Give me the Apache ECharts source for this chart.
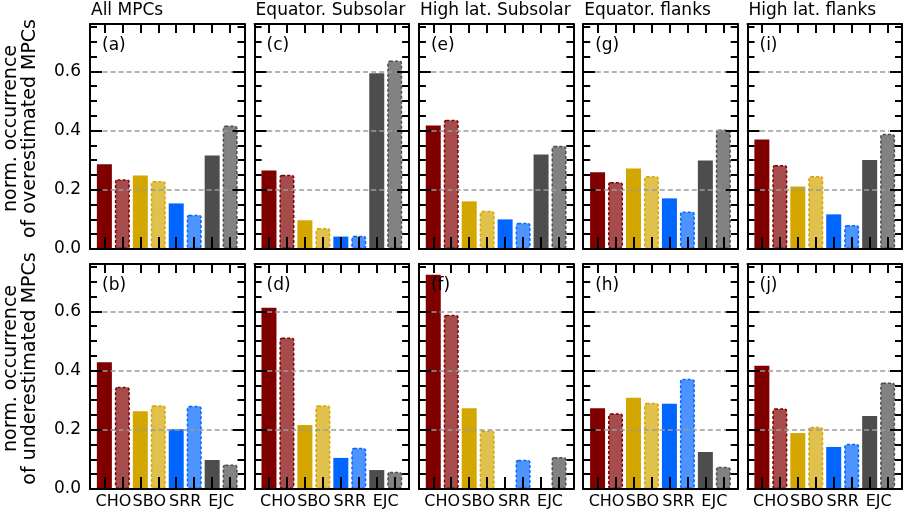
<!DOCTYPE html>
<html><head><meta charset="utf-8">
<script src="https://cdn.jsdelivr.net/npm/echarts@6/dist/echarts.min.js"></script>
<style>html,body{margin:0;padding:0;background:#fff}#c{width:904px;height:513px}</style>
</head><body><div id="c"></div>
<script>
const categories = ['CHO', 'SBO', 'SRR', 'EJC'];
const columnTitles = ['All MPCs', 'Equator. Subsolar', 'High lat. Subsolar', 'Equator. flanks', 'High lat. flanks'];
const topLetters = ['(a)', '(c)', '(e)', '(g)', '(i)'];
const bottomLetters = ['(b)', '(d)', '(f)', '(h)', '(j)'];
const yTickValues = [0.0, 0.2, 0.4, 0.6];
const rowTitles = ['norm. occurrence\nof overestimated MPCs', 'norm. occurrence\nof underestimated MPCs'];
// each array: [CHO, CHO (dashed), SBO, SBO (dashed), SRR, SRR (dashed), EJC, EJC (dashed)]
const overAll = [0.286, 0.236, 0.248, 0.230, 0.154, 0.116, 0.316, 0.417];
const overEquatorSubsolar = [0.265, 0.251, 0.097, 0.071, 0.042, 0.045, 0.594, 0.637];
const overHighLatSubsolar = [0.417, 0.437, 0.161, 0.129, 0.100, 0.089, 0.319, 0.349];
const overEquatorFlanks = [0.259, 0.226, 0.272, 0.247, 0.171, 0.127, 0.299, 0.404];
const overHighLatFlanks = [0.370, 0.284, 0.211, 0.247, 0.117, 0.081, 0.301, 0.389];
const underAll = [0.428, 0.345, 0.263, 0.283, 0.202, 0.281, 0.098, 0.083];
const underEquatorSubsolar = [0.612, 0.512, 0.216, 0.283, 0.105, 0.139, 0.064, 0.058];
const underHighLatSubsolar = [0.724, 0.589, 0.273, 0.198, 0.000, 0.099, 0.000, 0.108];
const underEquatorFlanks = [0.273, 0.256, 0.308, 0.291, 0.288, 0.372, 0.125, 0.075];
const underHighLatFlanks = [0.416, 0.273, 0.189, 0.210, 0.142, 0.153, 0.247, 0.360];

const rows = [
  [overAll, overEquatorSubsolar, overHighLatSubsolar, overEquatorFlanks, overHighLatFlanks],
  [underAll, underEquatorSubsolar, underHighLatSubsolar, underEquatorFlanks, underHighLatFlanks]
];

// styling
const solidColors = ['#800000', '#d4a600', '#0066ff', '#4d4d4d'];
const lightColors = ['#a64c4c', '#e1c14d', '#4d94ff', '#828282'];
const FONT = 'DejaVu Sans';
const colLeft = [90, 254.6, 418.9, 583.2, 747.5];
const rowTop = [24, 264];
const W = 154.5, H = 225;
const TOP_TICK = 9;
const XMIN = -0.8, XMAX = 7.8, YMAX = 0.76;
const barTickValues = [0, 1, 2, 3, 4, 5, 6, 7];
const topTickSpan = TOP_TICK / H * YMAX; // tick length in y units

const grids = [], xAxes = [], yAxes = [], series = [], titles = [];
const tickLine = { color: '#000', width: 2 };

function barStyle(i) {
  const k = Math.floor(i / 2);
  if (i % 2 === 0) return { color: solidColors[k] };
  return { color: lightColors[k], borderColor: solidColors[k], borderWidth: 1.5, borderType: [3, 2], borderRadius: 2 };
}

for (let r = 0; r < 2; r++) {
  for (let c = 0; c < 5; c++) {
    const g = r * 5 + c;
    grids.push({ left: colLeft[c], top: rowTop[r], width: W, height: H });

    // x axis 0: bottom (bars)
    xAxes.push({
      type: 'value', gridIndex: g, position: 'bottom', min: XMIN, max: XMAX, z: 20,
      axisLine: { show: true, onZero: false, lineStyle: tickLine },
      axisTick: { show: false },
      axisLabel: {
        show: r === 1, customValues: [0.5, 2.5, 4.5, 6.5], margin: 5,
        formatter: v => categories[Math.round((v - 0.5) / 2)] || '',
        fontFamily: FONT, fontSize: 16, color: '#000'
      },
      splitLine: { show: false }
    });
    // x axis 1: top frame
    xAxes.push({
      type: 'value', gridIndex: g, position: 'top', min: XMIN, max: XMAX, z: 20,
      axisLine: { show: true, onZero: false, lineStyle: tickLine },
      axisTick: { show: false }, axisLabel: { show: false }, splitLine: { show: false }
    });
    // x axis 2: bottom ticks at bar positions
    xAxes.push({
      type: 'value', gridIndex: g, position: 'bottom', min: XMIN, max: XMAX, z: 20,
      axisLine: { show: false, onZero: false },
      axisTick: { show: true, inside: true, length: 12, lineStyle: tickLine, customValues: barTickValues },
      axisLabel: { show: false, customValues: barTickValues }, splitLine: { show: false }
    });
    // y axis 0: left major
    const yl = {
      type: 'value', gridIndex: g, position: 'left', min: 0, max: YMAX, interval: 0.2, z: 20,
      axisLine: { show: true, onZero: false, lineStyle: tickLine },
      axisTick: { show: true, inside: true, length: 12, lineStyle: tickLine },
      axisLabel: {
        show: c === 0, margin: 9, fontFamily: FONT, fontSize: 17, color: '#000',
        formatter: v => (yTickValues.some(t => Math.abs(t - v) < 1e-6) ? v.toFixed(1) : '')
      },
      splitLine: { show: false }
    };
    if (c === 0) {
      yl.name = rowTitles[r];
      yl.nameLocation = 'middle';
      yl.nameRotate = 90;
      yl.nameGap = 50;
      yl.nameTextStyle = { fontFamily: FONT, fontSize: 19, lineHeight: 19, color: '#000', padding: [0, 0, 0, 16] };
    }
    yAxes.push(yl);
    // y axis 1: left minor
    yAxes.push({
      type: 'value', gridIndex: g, position: 'left', min: 0, max: YMAX, interval: 0.05, z: 20,
      axisLine: { show: false, onZero: false },
      axisTick: { show: true, inside: true, length: 7, lineStyle: tickLine },
      axisLabel: { show: false }, splitLine: { show: false }
    });
    // y axis 2: right major
    yAxes.push({
      type: 'value', gridIndex: g, position: 'right', min: 0, max: YMAX, interval: 0.2, z: 20,
      axisLine: { show: true, onZero: false, lineStyle: tickLine },
      axisTick: { show: true, inside: true, length: 12, lineStyle: tickLine },
      axisLabel: { show: false }, splitLine: { show: false }
    });
    // y axis 3: right minor
    yAxes.push({
      type: 'value', gridIndex: g, position: 'right', min: 0, max: YMAX, interval: 0.05, z: 20,
      axisLine: { show: false, onZero: false },
      axisTick: { show: true, inside: true, length: 7, lineStyle: tickLine },
      axisLabel: { show: false }, splitLine: { show: false }
    });

    const gridLines = yTickValues.filter(v => v > 0).map(v => [{ coord: [-0.1, v] }, { coord: [7.1, v] }]);
    // top-edge x ticks mirroring the bottom ticks, hung from the top frame
    const topTicks = barTickValues.map(v => [
      { coord: [v, YMAX], lineStyle: { type: 'solid', color: '#000', width: 2 } },
      { coord: [v, YMAX - topTickSpan] }
    ]);

    const vals = rows[r][c];
    series.push({
      type: 'bar', xAxisIndex: g * 3, yAxisIndex: g * 4, barWidth: 15,
      data: vals.map((v, i) => ({ value: [i, v], itemStyle: barStyle(i) })),
      markLine: {
        silent: true, symbol: 'none', z: 5, label: { show: false },
        lineStyle: { type: [5, 3], color: '#9a9a9a', width: 1.6 },
        data: gridLines.concat(topTicks)
      }
    });

    titles.push({
      text: (r === 0 ? topLetters : bottomLetters)[c], left: colLeft[c] + 12, top: rowTop[r] + 13, padding: 0,
      textStyle: { fontFamily: FONT, fontSize: 17, fontWeight: 'normal', color: '#000' }
    });
    if (r === 0) {
      titles.push({
        text: columnTitles[c], left: colLeft[c] + 1, top: 2, padding: 0,
        textStyle: { fontFamily: FONT, fontSize: 17, fontWeight: 'normal', color: '#000' }
      });
    }
  }
}

const chart = echarts.init(document.getElementById('c'), null, { renderer: 'canvas' });
chart.setOption({
  animation: false,
  backgroundColor: '#fff',
  title: titles,
  grid: grids,
  xAxis: xAxes,
  yAxis: yAxes,
  series: series
});
</script>
</body></html>
